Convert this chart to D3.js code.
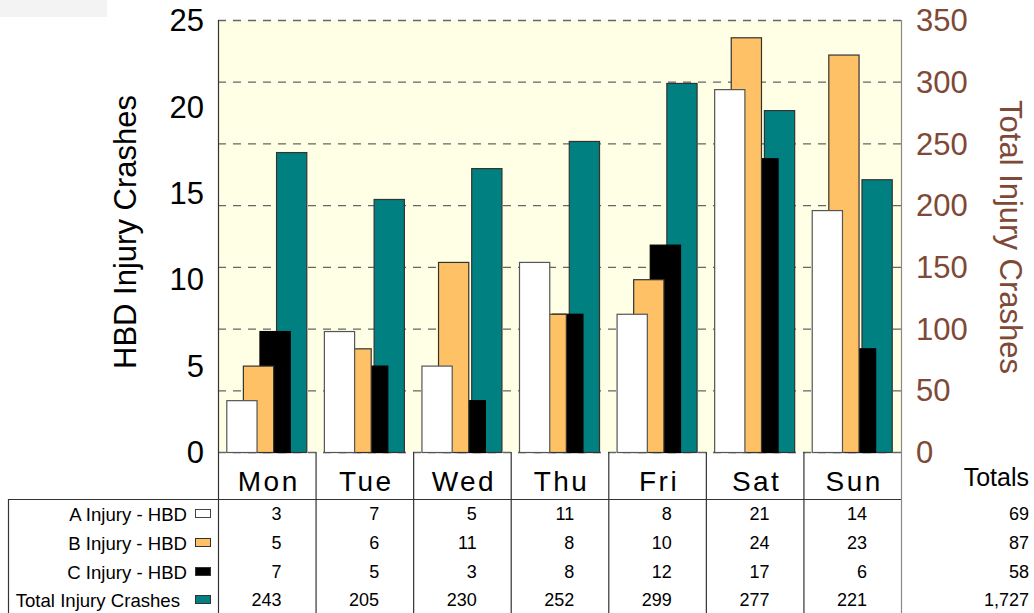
<!DOCTYPE html>
<html><head><meta charset="utf-8">
<script src="https://cdn.jsdelivr.net/npm/d3@7"></script>
<style>
html,body{margin:0;padding:0;background:#fff;}
svg{display:block;font-family:"Liberation Sans",Arial,sans-serif;}
</style></head>
<body><svg id="chart" width="1034" height="613"></svg>
<script>
const days = ["Mon","Tue","Wed","Thu","Fri","Sat","Sun"];
const seriesNames = ["A Injury - HBD","B Injury - HBD","C Injury - HBD","Total Injury Crashes"];
const aInjury = [3,7,5,11,8,21,14];
const bInjury = [5,6,11,8,10,24,23];
const cInjury = [7,5,3,8,12,17,6];
const totalInjury = [243,205,230,252,299,277,221];
const rowTotals = ["69","87","58","1,727"];
const leftTicks = [0,5,10,15,20,25];
const rightTicks = [0,50,100,150,200,250,300,350];

const colors = ["#FFFFFF","#FFC166","#000000","#008080"];
const strokes = ["#555","#333","#000","#333"];
const brown = "#7E4936";

const svg = d3.select("#chart");
const L = 218, R = 901, T = 20, B = 452;

// top-left light box
svg.append("rect").attr("x",0).attr("y",0).attr("width",107).attr("height",17).attr("fill","#f3f3f3");

const x = d3.scaleBand().domain(days).range([L,R]).paddingInner(0).paddingOuter(0);
const yL = d3.scaleLinear().domain([0,25]).range([B,T]);
const yR = d3.scaleLinear().domain([0,350]).range([B,T]);

// plot bg
svg.append("rect").attr("x",L).attr("y",T).attr("width",R-L).attr("height",B-T).attr("fill","#FFFFE6");

// grid lines (right axis)
svg.append("g").selectAll("line").data(rightTicks).join("line")
  .attr("x1",L).attr("x2",R).attr("y1",d=>yR(d)+0.5).attr("y2",d=>yR(d)+0.5)
  .attr("stroke","#666").attr("stroke-width",1.3).attr("stroke-dasharray","8,7");

// bars: draw Total first (back), then C, B, A on top
const allSeries = [aInjury,bInjury,cInjury,totalInjury];
const bw = x.bandwidth();
const barW = bw*0.31, step = bw*0.17, off = bw*0.085;
for (let s = 3; s >= 0; s--) {
  const yy = s===3 ? yR : yL;
  svg.append("g").selectAll("rect").data(allSeries[s]).join("rect")
    .attr("x",(d,i)=>x(days[i])+off+s*step+0.5)
    .attr("y",d=>yy(d)+0.5)
    .attr("width",barW)
    .attr("height",d=>B-yy(d))
    .attr("fill",colors[s]).attr("stroke",strokes[s]).attr("stroke-width",1.2);
}

// borders
svg.append("line").attr("x1",L+0.5).attr("x2",L+0.5).attr("y1",T).attr("y2",613).attr("stroke","#333").attr("stroke-width",1.2);
svg.append("line").attr("x1",R+0.5).attr("x2",R+0.5).attr("y1",T).attr("y2",613).attr("stroke","#888").attr("stroke-width",1.2);

// left axis labels
svg.append("g").selectAll("text").data(leftTicks).join("text")
  .attr("x",204).attr("y",d=>yL(d)).attr("dy","0.36em").attr("text-anchor","end")
  .attr("font-size",31).attr("fill","#000").text(d=>d);
// right axis labels
svg.append("g").selectAll("text").data(rightTicks).join("text")
  .attr("x",916).attr("y",d=>yR(d)).attr("dy","0.36em").attr("text-anchor","start")
  .attr("font-size",31).attr("fill",brown).text(d=>d);

// axis titles
svg.append("text").attr("transform","translate(125,232) rotate(-90)")
  .attr("text-anchor","middle").attr("dy","0.36em").attr("font-size",31).attr("fill","#000").text("HBD Injury Crashes");
svg.append("text").attr("transform","translate(1011,237) rotate(90)")
  .attr("text-anchor","middle").attr("dy","0.36em").attr("font-size",31).attr("fill",brown).text("Total Injury Crashes");

// category row / table lines
const tableTop = 499;
svg.append("g").selectAll("line").data(days.slice(1)).join("line")
  .attr("x1",d=>x(d)+0.5).attr("x2",d=>x(d)+0.5).attr("y1",B).attr("y2",613)
  .attr("stroke","#333").attr("stroke-width",1.2);
svg.append("line").attr("x1",8).attr("x2",R).attr("y1",tableTop+0.5).attr("y2",tableTop+0.5).attr("stroke","#333").attr("stroke-width",1.2);
svg.append("line").attr("x1",8.5).attr("x2",8.5).attr("y1",tableTop).attr("y2",613).attr("stroke","#333").attr("stroke-width",1.2);

// category labels
svg.append("g").selectAll("text").data(days).join("text")
  .attr("x",d=>x(d)+bw/2+2).attr("y",481).attr("dy","0.36em").attr("text-anchor","middle")
  .attr("font-size",28).attr("letter-spacing","2.5px").attr("fill","#000").text(d=>d);

// Totals header
svg.append("text").attr("x",1029).attr("y",477).attr("dy","0.36em").attr("text-anchor","end")
  .attr("font-size",25).attr("fill","#000").text("Totals");

// table rows
const rowY = [514,543,572,600];
const labelEnd = [187,187,187,180];
seriesNames.forEach((name,s)=>{
  svg.append("text").attr("x",labelEnd[s]).attr("y",rowY[s]).attr("dy","0.36em").attr("text-anchor","end")
    .attr("font-size",18.6).attr("fill","#000").text(name);
  svg.append("rect").attr("x",195.5).attr("y",rowY[s]-4.5).attr("width",15).attr("height",8)
    .attr("fill",colors[s]).attr("stroke",s===0?"#444":"#333").attr("stroke-width",1);
  svg.append("g").selectAll("text").data(allSeries[s]).join("text")
    .attr("x",(d,i)=>x(days[i])+bw-34).attr("y",rowY[s]).attr("dy","0.36em").attr("text-anchor","end")
    .attr("font-size",18).attr("fill","#000").text(d=>d3.format(",")(d));
  svg.append("text").attr("x",1029).attr("y",rowY[s]).attr("dy","0.36em").attr("text-anchor","end")
    .attr("font-size",18).attr("fill","#000").text(rowTotals[s]);
});
</script></body></html>
